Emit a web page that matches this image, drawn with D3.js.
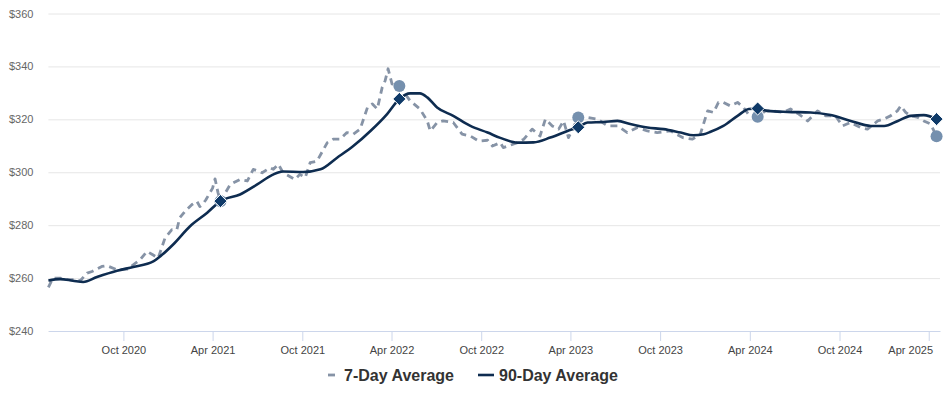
<!DOCTYPE html>
<html>
<head>
<meta charset="utf-8">
<script src="https://cdn.jsdelivr.net/npm/d3@7"></script>
<style>
  html, body { margin: 0; padding: 0; background: #fff; }
  svg { display: block; font-family: "Liberation Sans", Arial, sans-serif; }
</style>
</head>
<body>
<svg id="chart" width="947" height="393"></svg>
<script>
// ---------------- DATA ----------------
const seriesNames = ["7-Day Average", "90-Day Average"];

const yTicks = [240, 260, 280, 300, 320, 340, 360];
const xTickDates = ["2020-10-01", "2021-04-01", "2021-10-01", "2022-04-01", "2022-10-01",
                    "2023-04-01", "2023-10-01", "2024-04-01", "2024-10-01", "2025-04-01"];
const xDomain = ["2020-05-01", "2025-04-24"];

// 7-day average (dates / values)
const day7Dates = [
  "2020-05-01","2020-05-10","2020-05-25","2020-06-08","2020-06-20","2020-07-05","2020-07-19","2020-07-29",
  "2020-08-18","2020-08-28","2020-09-18","2020-10-09","2020-11-04","2020-11-18","2020-11-30","2020-12-11",
  "2020-12-25","2021-01-08","2021-01-18","2021-01-24","2021-02-04","2021-02-18","2021-02-28","2021-03-06",
  "2021-03-12","2021-03-18","2021-04-01","2021-04-06","2021-04-12","2021-04-17","2021-05-07","2021-05-27",
  "2021-06-11","2021-06-23","2021-07-11","2021-07-27","2021-08-03","2021-08-13","2021-08-23","2021-09-16",
  "2021-09-26","2021-10-07","2021-10-17","2021-10-31","2021-11-21","2021-12-03","2021-12-17","2021-12-31",
  "2022-01-13","2022-01-27","2022-02-11","2022-02-21","2022-03-03","2022-03-13","2022-03-19","2022-03-25",
  "2022-04-02","2022-04-17","2022-05-09","2022-05-29","2022-06-13","2022-06-19","2022-07-03","2022-07-15",
  "2022-08-05","2022-08-23","2022-09-09","2022-09-26","2022-10-14","2022-10-24","2022-11-09","2022-11-15",
  "2022-12-14","2022-12-27","2023-01-13","2023-01-29","2023-02-09","2023-02-23","2023-03-08","2023-03-18",
  "2023-03-28","2023-04-17","2023-05-06","2023-05-26","2023-06-16","2023-07-06","2023-07-26","2023-08-16",
  "2023-09-05","2023-09-25","2023-10-22","2023-11-16","2023-12-06","2023-12-22","2024-01-06","2024-01-18",
  "2024-01-28","2024-02-07","2024-02-21","2024-03-07","2024-03-19","2024-03-29","2024-04-17","2024-05-03",
  "2024-05-19","2024-06-07","2024-06-23","2024-07-10","2024-07-28","2024-08-17","2024-09-03","2024-09-23",
  "2024-10-07","2024-10-23","2024-11-13","2024-11-27","2024-12-18","2024-12-30","2025-01-13","2025-01-27",
  "2025-02-03","2025-02-13","2025-02-23","2025-03-10","2025-03-22","2025-04-05","2025-04-17"
];
const day7Values = [
  256.5,260.0,260.0,259.5,259.4,259.0,261.9,262.5,
  264.4,264.7,263.1,263.4,266.9,270.1,268.8,267.6,
  275.2,278.3,278.3,282.8,285.3,287.8,289.0,287.0,
  288.0,289.5,294.0,297.5,292.3,289.0,295.4,297.3,
  296.7,301.1,299.8,301.7,301.1,303.0,299.8,297.3,
  299.2,298.0,303.6,304.2,311.2,312.5,312.5,315.0,
  314.4,316.3,324.5,325.8,323.9,332.1,334.6,339.1,
  333.4,332.6,327.0,323.9,319.4,315.6,318.8,319.4,
  318.8,314.4,313.7,311.8,312.1,309.9,311.2,309.3,
  311.2,312.5,316.3,313.7,320.1,317.5,316.3,319.4,
  313.1,320.7,320.7,320.1,317.5,317.5,315.0,316.9,
  315.6,315.0,315.6,313.1,312.5,314.4,323.2,322.6,
  326.4,326.4,325.1,326.4,324.5,322.0,321.0,323.2,
  323.2,322.6,323.9,322.0,319.4,323.2,321.3,321.3,
  317.5,318.8,316.9,316.3,319.4,320.1,321.3,323.2,
  325.1,322.6,321.3,320.7,319.4,318.2,313.6
];

// 90-day average (dates / values)
const day90Dates = [
  "2020-05-01","2020-05-25","2020-06-20","2020-07-11","2020-08-08","2020-09-18","2020-10-21","2020-12-01",
  "2020-12-15","2021-01-10","2021-02-14","2021-03-21","2021-04-17","2021-05-27","2021-07-01","2021-08-01",
  "2021-08-22","2021-10-03","2021-11-07","2021-12-11","2022-01-13","2022-02-17","2022-03-23","2022-04-17",
  "2022-05-09","2022-05-29","2022-06-13","2022-07-03","2022-08-05","2022-09-09","2022-10-14","2022-11-09",
  "2022-12-14","2023-01-16","2023-02-19","2023-03-26","2023-04-17","2023-05-06","2023-06-07","2023-07-06",
  "2023-08-01","2023-09-05","2023-10-08","2023-11-12","2023-12-08","2023-12-29","2024-01-12","2024-02-07",
  "2024-03-07","2024-03-30","2024-04-17","2024-05-07","2024-06-17","2024-08-03","2024-09-13","2024-10-24",
  "2024-12-04","2024-12-31","2025-01-28","2025-02-23","2025-03-22","2025-04-17"
];
const day90Values = [
  259.1,259.6,259.0,258.5,260.4,262.8,264.2,266.3,
  268.2,272.6,279.6,284.7,289.1,291.6,295.4,299.0,
  300.3,300.1,301.1,305.5,309.9,315.6,322.0,327.7,
  329.8,329.8,328.3,324.5,321.3,317.5,315.0,313.0,
  311.2,311.3,313.1,315.6,317.0,318.8,319.0,319.4,
  318.2,316.9,316.3,315.0,314.0,314.4,315.3,317.5,
  321.3,323.9,324.1,323.2,322.8,322.6,321.6,319.4,
  317.5,317.5,319.4,321.3,321.6,320.1
];

// Highlighted same-date points each April
const markerDates = ["2021-04-17", "2022-04-17", "2023-04-17", "2024-04-17", "2025-04-17"];
const marker7Values = [289.0, 332.6, 320.7, 321.0, 313.6];
const marker90Values = [289.1, 327.7, 317.0, 324.1, 320.1];

// ---------------- CHART ----------------
const parse = d3.utcParse("%Y-%m-%d");
const svg = d3.select("#chart");

const plotLeft = 48.4, plotRight = 940, plotTop = 13.5, plotBottom = 331;

const x = d3.scaleUtc().domain(xDomain.map(parse)).range([plotLeft, plotRight]);
const y = d3.scaleLinear().domain([240, 360]).range([plotBottom, plotTop]);

const colors = { d7: "#8693a6", d90: "#0e2c50", circle: "#7590ae", diamond: "#0f3a68" };

// Gridlines + y labels
const yAxis = d3.axisLeft(y).tickValues(yTicks)
  .tickSize(-(plotRight - plotLeft)).tickFormat(d => "$" + d);
const gy = svg.append("g").attr("transform", `translate(${plotLeft},0)`).call(yAxis);
gy.select(".domain").remove();
gy.selectAll(".tick line").attr("stroke", "#e6e6e6").attr("stroke-width", 1);
gy.selectAll(".tick text").attr("x", -15).attr("fill", "#666").attr("font-size", "11px")
  .attr("font-family", "Liberation Sans, Arial, sans-serif");

// X axis
const xAxis = d3.axisBottom(x).tickValues(xTickDates.map(parse))
  .tickSizeInner(10).tickSizeOuter(0).tickPadding(5).tickFormat(d3.utcFormat("%b %Y"));
const gx = svg.append("g").attr("transform", `translate(0,${plotBottom})`).call(xAxis);
gx.select(".domain").attr("stroke", "#ccd6eb").attr("stroke-width", 1);
gx.selectAll(".tick line").attr("stroke", "#ccd6eb");
gx.selectAll(".tick text").attr("fill", "#444").attr("font-size", "11px")
  .attr("font-family", "Liberation Sans, Arial, sans-serif");
// keep last label inside the plot
gx.selectAll(".tick text").each(function() {
  const bb = this.getBBox();
  const tx = +d3.select(this.parentNode).attr("transform").match(/translate\(([^,]+)/)[1];
  const overflow = tx + bb.x + bb.width - 933;
  if (overflow > 0) d3.select(this).attr("dx", -overflow);
});

// Lines
const d7 = day7Dates.map((d, i) => ({ date: parse(d), v: day7Values[i] }));
const d90 = day90Dates.map((d, i) => ({ date: parse(d), v: day90Values[i] }));

const line7 = d3.line().x(d => x(d.date)).y(d => y(d.v)).curve(d3.curveLinear);
const line90 = d3.line().x(d => x(d.date)).y(d => y(d.v)).curve(d3.curveMonotoneX);

svg.append("path").datum(d7).attr("d", line7)
  .attr("fill", "none").attr("stroke", colors.d7).attr("stroke-width", 2.8)
  .attr("stroke-dasharray", "7,5").attr("stroke-linejoin", "round");

svg.append("path").datum(d90).attr("d", line90)
  .attr("fill", "none").attr("stroke", colors.d90).attr("stroke-width", 2.6)
  .attr("stroke-linejoin", "round");

// Markers
const m7 = markerDates.map((d, i) => ({ date: parse(d), v: marker7Values[i] }));
const m90 = markerDates.map((d, i) => ({ date: parse(d), v: marker90Values[i] }));

svg.append("g").selectAll("circle").data(m7).join("circle")
  .attr("cx", d => x(d.date)).attr("cy", d => y(d.v)).attr("r", 6)
  .attr("fill", colors.circle);

const diamond = d3.symbol().type(d3.symbolDiamond2).size(110);
svg.append("g").selectAll("path").data(m90).join("path")
  .attr("d", diamond)
  .attr("transform", d => `translate(${x(d.date)},${y(d.v)})`)
  .attr("fill", colors.diamond).attr("stroke", "#fff").attr("stroke-width", 1);

// Legend
const legend = svg.append("g").attr("font-family", "Liberation Sans, Arial, sans-serif");
legend.append("line").attr("x1", 328).attr("x2", 335).attr("y1", 375).attr("y2", 375)
  .attr("stroke", colors.d7).attr("stroke-width", 2.8);
legend.append("text").attr("x", 344).attr("y", 381).text(seriesNames[0])
  .attr("font-size", "16px").attr("font-weight", "bold").attr("fill", "#333");
legend.append("line").attr("x1", 478).attr("x2", 494).attr("y1", 375).attr("y2", 375)
  .attr("stroke", colors.d90).attr("stroke-width", 2.6);
legend.append("text").attr("x", 499).attr("y", 381).text(seriesNames[1])
  .attr("font-size", "16px").attr("font-weight", "bold").attr("fill", "#333");
</script>
</body>
</html>
